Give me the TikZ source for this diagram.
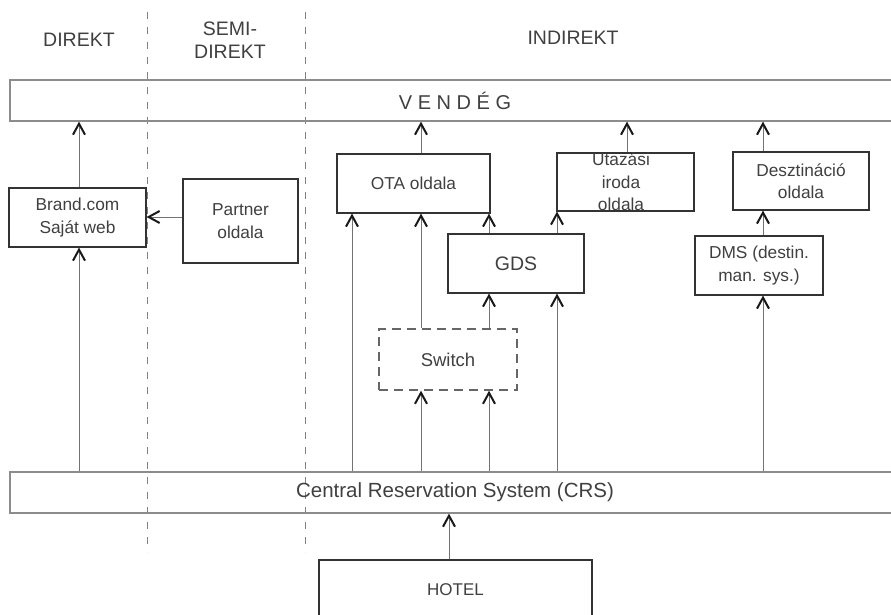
\documentclass[tikz,border=0pt]{standalone}
\usepackage{fontspec}
\setmainfont{Liberation Sans}
\usetikzlibrary{arrows.meta}
\begin{document}
\begin{tikzpicture}[x=1pt,y=-1pt,
  box/.style={draw=black!80, line width=1.1pt, text=black!75, align=center, inner sep=0pt,
    font=\fontsize{17.3}{22.5}\selectfont},
  wide/.style={draw=black!45, line width=1.2pt, text=black!75, inner sep=0pt,
    minimum width=890pt, minimum height=41pt},
  head/.style={text=black!75, align=center, font=\fontsize{19.5}{23}\selectfont},
  divider/.style={draw=black!50, line width=1pt, dash pattern=on 7pt off 8pt},
  arr/.style={draw=black!55, line width=1pt,
    -{Straight Barb[length=11pt,width=12pt,line width=2pt,color=black!90]}}]
\useasboundingbox (0,0) rectangle (891,615);
\clip (0,0) rectangle (891,615);
\fill[white] (0,0) rectangle (891,615);

% dividers
\draw[divider] (147,12) -- (147,552);
\draw[divider] (305,12) -- (305,552);

% headings
\node[head] (hdir) at (79,40) {DIREKT};
\node[head] (hsemi) at (230,40) {SEMI-\\DIREKT};
\node[head] (hind) at (573,38) {INDIREKT};

% wide boxes
\node[wide, font=\fontsize{20}{24}\selectfont] (vendeg) at (455,100.5) {V E N D É G};
\node[wide, font=\fontsize{20.5}{24}\selectfont] (crs) at (455,492.5) {Central Reservation System (CRS)};

% boxes
\node[box, minimum width=137pt, minimum height=59pt] (brand) at (77.5,217.5) {Brand.com\\Saját web};
\node[box, minimum width=115pt, minimum height=84pt] (partner) at (240.5,221) {Partner\\oldala};
\node[box, minimum width=153pt, minimum height=59pt] (ota) at (413.5,183.5) {OTA oldala};
\node[box, minimum width=137pt, minimum height=58pt] (utaz) at (625.5,182) {\hspace*{-9pt}Utazási\\\hspace*{-9pt}iroda\\\hspace*{-9pt}oldala};
\node[box, minimum width=136pt, minimum height=58pt] (desz) at (801,181) {Desztináció\\oldala};
\node[box, minimum width=136pt, minimum height=59pt, font=\fontsize{19.5}{23}\selectfont] (gds) at (516,263.5) {GDS};
\node[box, minimum width=128pt, minimum height=59pt] (dms) at (759,265.5) {DMS (destin.\\man. sys.)};
\node[box, draw=black!60, line width=1.4pt, dash pattern=on 9pt off 6pt,
  minimum width=138pt, minimum height=61pt, font=\fontsize{18.5}{22}\selectfont] (switch) at (448,359.5) {Switch};
\node[box, minimum width=273pt, minimum height=60pt, font=\fontsize{17}{21}\selectfont] (hotel) at (455.5,590) {HOTEL};

% x positions of connectors
\coordinate (xa) at (79,0);
\coordinate (xb) at (352,0);
\coordinate (xc) at (421,0);
\coordinate (xd) at (489,0);
\coordinate (xe) at (557,0);
\coordinate (xf) at (627,0);
\coordinate (xg) at (763,0);
\coordinate (xh) at (449,0);
\coordinate (ya) at (0,217);

% connectors
\draw[arr] (crs.north -| xa) -- (brand.south -| xa);
\draw[arr] (brand.north -| xa) -- (vendeg.south -| xa);
\draw[arr] (partner.west |- ya) -- (brand.east |- ya);
\draw[arr] (ota.north -| xc) -- (vendeg.south -| xc);
\draw[arr] (utaz.north -| xf) -- (vendeg.south -| xf);
\draw[arr] (desz.north -| xg) -- (vendeg.south -| xg);
\draw[arr] (crs.north -| xb) -- (ota.south -| xb);
\draw[arr] (switch.north -| xc) -- (ota.south -| xc);
\draw[arr] (switch.north -| xd) -- (gds.south -| xd);
\draw[arr] (crs.north -| xc) -- (switch.south -| xc);
\draw[arr] (crs.north -| xd) -- (switch.south -| xd);
\draw[arr] (gds.north -| xd) -- (ota.south -| xd);
\draw[arr] (crs.north -| xe) -- (gds.south -| xe);
\draw[arr] (gds.north -| xe) -- (utaz.south -| xe);
\draw[arr] (dms.north -| xg) -- (desz.south -| xg);
\draw[arr] (crs.north -| xg) -- (dms.south -| xg);
\draw[arr] (hotel.north -| xh) -- (crs.south -| xh);
\end{tikzpicture}
\end{document}
